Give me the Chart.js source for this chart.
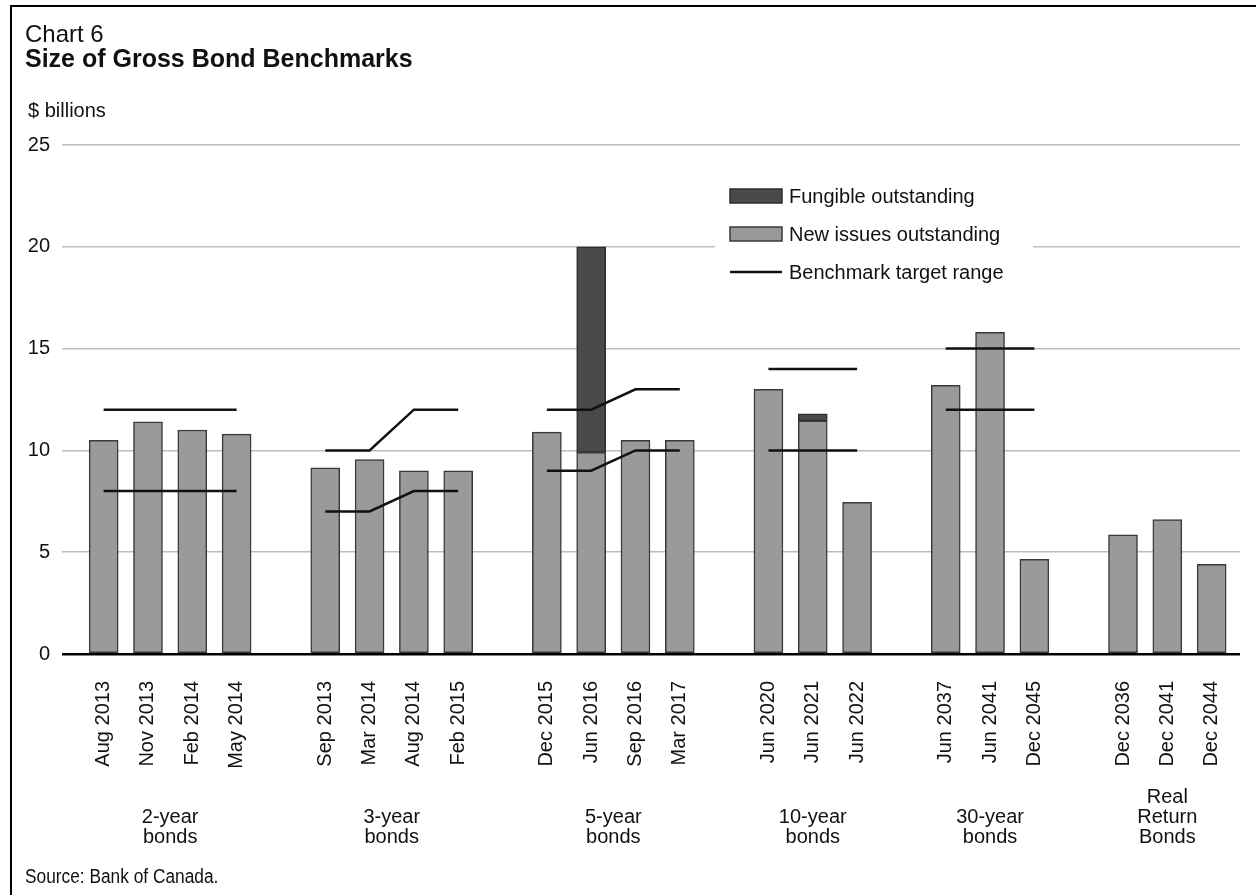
<!DOCTYPE html>
<html>
<head>
<meta charset="utf-8">
<title>Size of Gross Bond Benchmarks</title>
<script src="https://cdn.jsdelivr.net/npm/chart.js@4.4.1/dist/chart.umd.min.js"></script>
<style>
  body { margin: 0; background: #fff; }
  #wrap { position: relative; width: 1256px; height: 895px; overflow: hidden;
          font-family: "Liberation Sans", Arial, Helvetica, sans-serif; color: #111; }
  #frame { position: absolute; left: 10px; top: 5px; width: 1260px; height: 900px;
           border-top: 2.5px solid #000; border-left: 2.5px solid #000; }
  #chartBox { position: absolute; left: 0; top: 0; width: 1256px; height: 895px; }
  .txt { position: absolute; line-height: 1; white-space: nowrap; pointer-events: none; }
  #num { left: 25px; top: 22px; font-size: 24px; }
  #title { left: 25px; top: 46px; font-size: 25px; font-weight: bold; }
  #unit { left: 28px; top: 100px; font-size: 20px; }
  /* condensed face isn't installed, so squeeze the regular one */
  #source { left: 25px; top: 866px; font-size: 20px; transform: scaleX(0.865); transform-origin: left top; }
</style>
</head>
<body>
<div id="wrap">
  <div id="chartBox"><canvas id="bondChart"></canvas></div>
  <div id="frame"></div>
  <div class="txt" id="num">Chart 6</div>
  <div class="txt" id="title">Size of Gross Bond Benchmarks</div>
  <div class="txt" id="unit">$ billions</div>
  <div class="txt" id="source">Source: Bank of Canada.</div>
</div>
<script>
// one slot per bond, '' = empty slot between maturity groups
const bondLabels = [
  'Aug 2013', 'Nov 2013', 'Feb 2014', 'May 2014', '',
  'Sep 2013', 'Mar 2014', 'Aug 2014', 'Feb 2015', '',
  'Dec 2015', 'Jun 2016', 'Sep 2016', 'Mar 2017', '',
  'Jun 2020', 'Jun 2021', 'Jun 2022', '',
  'Jun 2037', 'Jun 2041', 'Dec 2045', '',
  'Dec 2036', 'Dec 2041', 'Dec 2044'
];
const newIssues = [
  10.5, 11.4, 11.0, 10.8, null,
  9.15, 9.55, 9.0, 9.0, null,
  10.9, 9.9, 10.5, 10.5, null,
  13.0, 11.45, 7.45, null,
  13.2, 15.8, 4.65, null,
  5.85, 6.6, 4.4
];
const fungible = [
  null, null, null, null, null,
  null, null, null, null, null,
  null, 10.1, null, null, null,
  null, 0.35, null, null,
  null, null, null, null,
  null, null, null
];
const targetHigh = [
  12, 12, 12, 12, null,
  10, 10, 12, 12, null,
  12, 12, 13, 13, null,
  14, 14, 14, null,
  15, 15, 15, null,
  null, null, null
];
const targetLow = [
  8, 8, 8, 8, null,
  7, 7, 8, 8, null,
  9, 9, 10, 10, null,
  10, 10, 10, null,
  12, 12, 12, null,
  null, null, null
];
const groupNames = [
  ['', '2-year', 'bonds'],
  ['', '3-year', 'bonds'],
  ['', '5-year', 'bonds'],
  ['', '10-year', 'bonds'],
  ['', '30-year', 'bonds'],
  ['Real', 'Return', 'Bonds']
];

// middle slot of each group (groups are split by the blank labels)
const groupCentres = [];
let start = 0;
bondLabels.forEach((l, i) => {
  if (l === '' || i === bondLabels.length - 1) {
    const end = l === '' ? i - 1 : i;
    groupCentres.push((start + end) / 2);
    start = i + 1;
  }
});

const toXY = arr => arr.map((v, i) => ({ x: i, y: v }));

Chart.defaults.font.family = '"Liberation Sans", Arial, Helvetica, sans-serif';
Chart.defaults.font.size = 20;
Chart.defaults.color = '#111';

const legendBox = {
  id: 'legendBox',
  beforeDatasetsDraw(chart) {
    const ctx = chart.ctx;
    const ds = chart.data.datasets;
    const items = [ds[3], ds[2], ds[0]];
    ctx.save();
    ctx.fillStyle = '#fff';
    ctx.fillRect(715, 180, 318, 105);
    ctx.font = '20px "Liberation Sans", Arial, sans-serif';
    ctx.textBaseline = 'middle';
    items.forEach((d, i) => {
      const y = 196 + i * 38;
      if (d.type === 'line') {
        ctx.strokeStyle = d.borderColor;
        ctx.lineWidth = d.borderWidth;
        ctx.beginPath();
        ctx.moveTo(730, y);
        ctx.lineTo(782, y);
        ctx.stroke();
      } else {
        ctx.fillStyle = d.backgroundColor;
        ctx.fillRect(730, y - 7, 52, 14);
        ctx.strokeStyle = d.borderColor;
        ctx.lineWidth = 1.5;
        ctx.strokeRect(730, y - 7, 52, 14);
      }
      ctx.fillStyle = '#111';
      ctx.fillText(d.label, 789, y + 1);
    });
    ctx.restore();
  }
};

// bottom axes: fixed height, and no extra side padding for the labels
const fixBottom = h => s => {
  s.height = h;
  s.paddingLeft = 0;
  s.paddingRight = 0;
};

new Chart(document.getElementById('bondChart'), {
  data: {
    datasets: [
      {
        type: 'line', label: 'Benchmark target range', data: toXY(targetHigh),
        xAxisID: 'x', yAxisID: 'y2',
        borderColor: '#111', borderWidth: 2.5, pointRadius: 0, spanGaps: false, fill: false
      },
      {
        type: 'line', label: 'Benchmark target range (low)', data: toXY(targetLow),
        xAxisID: 'x', yAxisID: 'y2',
        borderColor: '#111', borderWidth: 2.5, pointRadius: 0, spanGaps: false, fill: false
      },
      {
        type: 'bar', label: 'New issues outstanding', data: toXY(newIssues),
        xAxisID: 'x', yAxisID: 'y',
        backgroundColor: '#9a9a9a', borderColor: '#3a3a3a', borderWidth: 1.5,
        borderSkipped: false, barThickness: 29
      },
      {
        type: 'bar', label: 'Fungible outstanding', data: toXY(fungible),
        xAxisID: 'x', yAxisID: 'y',
        backgroundColor: '#4a4a4a', borderColor: '#2e2e2e', borderWidth: 1.5,
        borderSkipped: false, barThickness: 29
      }
    ]
  },
  options: {
    responsive: true,
    maintainAspectRatio: false,
    animation: false,
    events: [],
    layout: { padding: { top: 145, right: 16, left: 0, bottom: 0 } },
    plugins: { legend: { display: false }, tooltip: { enabled: false } },
    scales: {
      x: {
        type: 'linear', min: -0.94, max: 25.64, stacked: true, offset: false,
        grid: { display: false, drawTicks: false },
        border: { display: false },
        afterBuildTicks: s => {
          s.ticks = bondLabels.map((l, i) => ({ value: i })).filter(t => bondLabels[t.value] !== '');
        },
        afterFit: fixBottom(130),
        ticks: {
          autoSkip: false, minRotation: 90, maxRotation: 90, padding: 27,
          callback: v => bondLabels[v]
        }
      },
      x2: {
        type: 'linear', position: 'bottom', weight: 1, min: -0.94, max: 25.64, offset: false,
        grid: { display: false, drawTicks: false },
        border: { display: false },
        afterBuildTicks: s => { s.ticks = groupCentres.map(c => ({ value: c })); },
        afterFit: fixBottom(111),
        ticks: {
          autoSkip: false, minRotation: 0, maxRotation: 0, padding: 3,
          font: { size: 20, lineHeight: 1 },
          callback: (v, i) => groupNames[i]
        }
      },
      y: {
        min: 0, max: 25, stacked: true,
        border: { display: false },
        grid: {
          drawTicks: false,
          color: c => c.tick.value === 0 ? '#000' : '#bdbdbd',
          lineWidth: c => c.tick.value === 0 ? 2.5 : 1.5
        },
        afterFit: s => { s.width = 62; },
        ticks: { stepSize: 5, padding: 12 }
      },
      y2: { display: false, min: 0, max: 25 }
    }
  },
  plugins: [legendBox]
});
</script>
</body>
</html>
